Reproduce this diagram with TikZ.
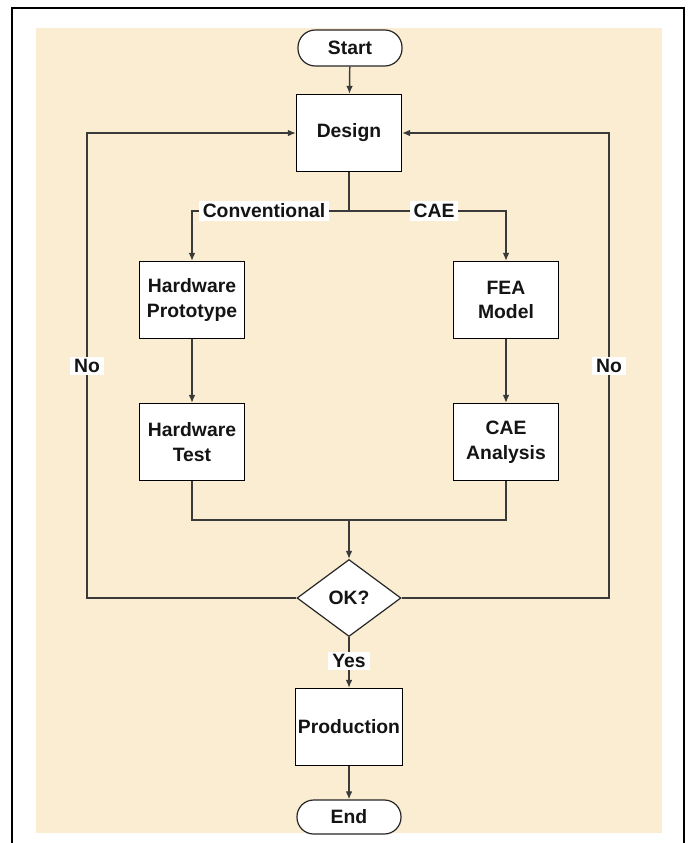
\documentclass[tikz,border=0pt]{standalone}
\usepackage{fontspec}
\setmainfont{Liberation Sans}
\usetikzlibrary{shapes.geometric,arrows.meta}
\definecolor{parch}{HTML}{FAEDD2}
\definecolor{edgecol}{HTML}{3A3A3A}
\definecolor{txt}{HTML}{141414}
\tikzset{
  every node/.style={font=\bfseries\fontsize{14.5}{18.5}\selectfont, text=txt},
  box/.style={draw=black, line width=0.9pt, fill=white, minimum width=78.75pt, minimum height=57.75pt, inner sep=0pt, align=center},
  term/.style={draw=black!85, line width=0.9pt, fill=white, rounded corners=13pt, minimum width=78pt, minimum height=27pt, inner sep=0pt},
  decide/.style={draw=black!85, line width=0.9pt, fill=white, diamond, aspect=1.35, minimum width=78pt, minimum height=57.75pt, inner sep=0pt},
  conn/.style={draw=edgecol, line width=1.1pt},
  arr/.style={conn, -{Latex[length=6pt,width=5pt]}},
  lab/.style={fill=white, inner xsep=3pt, inner ysep=2pt}
}
\begin{document}
\begin{tikzpicture}[x=0.75pt,y=-0.75pt]
\useasboundingbox (0,0) rectangle (689,843);
\fill[white] (0,0) rectangle (689,843);
\fill[parch] (36,28) rectangle (662,833);
\draw[black, line width=2.2pt] (12,843) -- (12,8) -- (684,8) -- (684,843);

\node[term] (start) at (350,48) {Start};
\node[box] (design) at (349,133) {Design};
\node[box] (hp) at (192,300) {Hardware\\Prototype};
\node[box] (fea) at (506,300) {FEA\\Model};
\node[box] (ht) at (192,442) {Hardware\\Test};
\node[box] (caea) at (506,442) {CAE\\Analysis};
\node[decide] (ok) at (349,598) {OK?};
\node[box, minimum width=80pt] (prod) at (349,727) {Production};
\node[term, minimum height=25.5pt, rounded corners=12.5pt] (end) at (349,817) {End};

\coordinate (split) at (349,211);
\coordinate (splitl) at (192,211);
\coordinate (splitr) at (506,211);
\coordinate (merge) at (349,520);
\coordinate (mergel) at (192,520);
\coordinate (merger) at (506,520);
\coordinate (nol) at (87,598);
\coordinate (nolt) at (87,133);
\coordinate (nor) at (609,598);
\coordinate (nort) at (609,133);

\draw[arr] (start) -- (design);
\draw[conn] (design) -- (split);
\draw[arr] (split) -- (splitl) -- (hp);
\draw[arr] (split) -- (splitr) -- (fea);
\draw[arr] (hp) -- (ht);
\draw[arr] (fea) -- (caea);
\draw[conn] (ht) -- (mergel) -- (merger) -- (caea);
\draw[arr] (merge) -- (ok);
\draw[arr] (ok.west) -- (nol) -- (nolt) -- (design.west);
\draw[arr] (ok.east) -- (nor) -- (nort) -- (design.east);
\draw[arr] (ok) -- (prod);
\draw[arr] (prod) -- (end);

\node[lab] (lconv) at (264,211) {Conventional};
\node[lab] (lcae) at (434,211) {CAE};
\node[lab] (lnol) at (87,366) {No};
\node[lab] (lnor) at (609,366) {No};
\node[lab] (lyes) at (349,661) {Yes};
\end{tikzpicture}
\end{document}
